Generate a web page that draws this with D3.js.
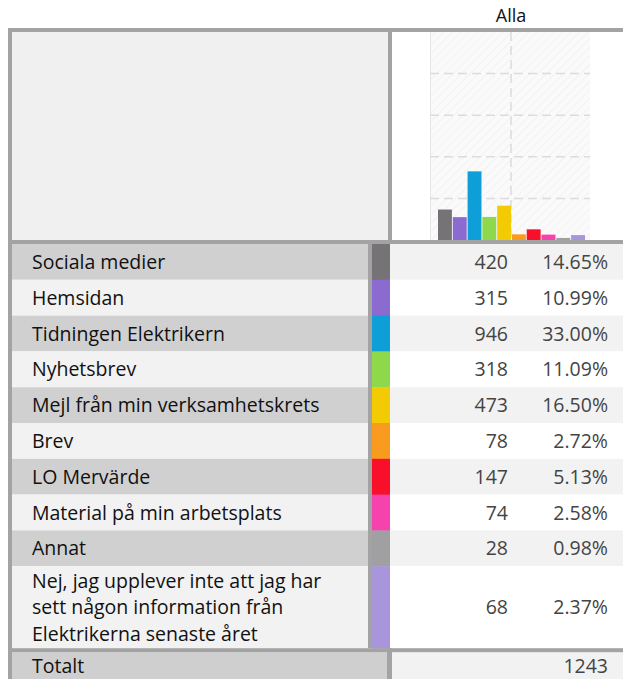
<!DOCTYPE html>
<html>
<head>
<meta charset="utf-8">
<script src="https://cdn.jsdelivr.net/npm/d3@7"></script>
<style>
  html, body { margin: 0; padding: 0; background: #ffffff; }
  svg { display: block; font-family: "Open Sans", "Noto Sans", sans-serif; }
</style>
</head>
<body>
<div id="chart"></div>
<script>
// ---- data ----
const headerLabel = "Alla";
const categories = [
  "Sociala medier",
  "Hemsidan",
  "Tidningen Elektrikern",
  "Nyhetsbrev",
  "Mejl från min verksamhetskrets",
  "Brev",
  "LO Mervärde",
  "Material på min arbetsplats",
  "Annat",
  "Nej, jag upplever inte att jag har sett någon information från Elektrikerna senaste året"
];
const labelLines = [
  ["Sociala medier"],
  ["Hemsidan"],
  ["Tidningen Elektrikern"],
  ["Nyhetsbrev"],
  ["Mejl från min verksamhetskrets"],
  ["Brev"],
  ["LO Mervärde"],
  ["Material på min arbetsplats"],
  ["Annat"],
  ["Nej, jag upplever inte att jag har", "sett någon information från", "Elektrikerna senaste året"]
];
const counts = [420, 315, 946, 318, 473, 78, 147, 74, 28, 68];
const percents = [14.65, 10.99, 33.00, 11.09, 16.50, 2.72, 5.13, 2.58, 0.98, 2.37];
const colors = ["#767376", "#8B6BCF", "#0F9FD8", "#8DD94B", "#F2CB05", "#F99B1E", "#F8102A", "#F542AD", "#A09FA1", "#A995DB"];
const totalLabel = "Totalt";
const totalValue = 1243;
const yTicks = [0, 20, 40, 60, 80, 100];

// ---- layout ----
const W = 623, H = 679;
const borderC = "#a3a3a3";
const svg = d3.select("#chart").append("svg").attr("width", W).attr("height", H);

const tableLeft = 8, tableTop = 28, headerBottom = 240, divX = 388;
const labelRight = 368, swatchL = 372, swatchR = 390;
const rowTop0 = 244, rowH = 35.8, lastRowH = 82;
const rowTops = [];
let yy = rowTop0;
categories.forEach((c, i) => { rowTops.push(yy); yy += (i === categories.length - 1 ? lastRowH : rowH); });
const rowHeights = categories.map((c, i) => i === categories.length - 1 ? lastRowH : rowH);
const tableBottom = yy; // 648
const totalTop = tableBottom + 4;

// header title
svg.append("text").attr("x", 511).attr("y", 22).attr("text-anchor", "middle")
  .attr("font-size", 18).attr("fill", "#111").text(headerLabel);

// header left cell
svg.append("rect").attr("x", 12).attr("y", 32).attr("width", divX - 12).attr("height", headerBottom - 32).attr("fill", "#f0f0f0");

// chart area
const plotL = 430, plotR = 590, plotT = 32, plotB = 240;
const defs = svg.append("defs");
const pat = defs.append("pattern").attr("id", "hatch").attr("patternUnits", "userSpaceOnUse")
  .attr("width", 6).attr("height", 6).attr("patternTransform", "rotate(45)");
pat.append("rect").attr("width", 6).attr("height", 6).attr("fill", "#fafafa");
pat.append("line").attr("x1", 0).attr("y1", 0).attr("x2", 0).attr("y2", 6).attr("stroke", "#ededed").attr("stroke-width", 1.2);

svg.append("rect").attr("x", plotL).attr("y", plotT).attr("width", plotR - plotL).attr("height", plotB - plotT).attr("fill", "url(#hatch)");
svg.append("line").attr("x1", plotL + 0.5).attr("x2", plotL + 0.5).attr("y1", plotT).attr("y2", plotB).attr("stroke", "#e6e6e6");

const y = d3.scaleLinear().domain([0, 100]).range([plotB, plotT]);
const x = d3.scaleBand().domain(categories).range([438, 585]).paddingInner(0.06);

svg.append("g").selectAll("line").data(yTicks.filter(t => t > 0 && t < 100)).join("line")
  .attr("x1", plotL).attr("x2", plotR).attr("y1", d => y(d)).attr("y2", d => y(d))
  .attr("stroke", "#dcdcdc").attr("stroke-width", 1.5).attr("stroke-dasharray", "9,5");
svg.append("line").attr("x1", 511).attr("x2", 511).attr("y1", plotT).attr("y2", plotB)
  .attr("stroke", "#dcdcdc").attr("stroke-width", 1.5).attr("stroke-dasharray", "9,5");

svg.append("g").selectAll("rect").data(categories).join("rect")
  .attr("x", d => x(d)).attr("width", x.bandwidth())
  .attr("y", (d, i) => y(percents[i])).attr("height", (d, i) => y(0) - y(percents[i]))
  .attr("fill", (d, i) => colors[i]);

// rows
const rows = svg.append("g").selectAll("g").data(categories).join("g");
rows.append("rect").attr("x", 12).attr("y", (d, i) => rowTops[i]).attr("width", labelRight - 12)
  .attr("height", (d, i) => rowHeights[i]).attr("fill", (d, i) => i % 2 === 0 ? "#d0d0d0" : "#f2f2f2");
rows.append("rect").attr("x", swatchR).attr("y", (d, i) => rowTops[i]).attr("width", W - swatchR)
  .attr("height", (d, i) => rowHeights[i]).attr("fill", (d, i) => i % 2 === 0 ? "#f2f2f2" : "#ffffff");
// divider between label and swatch
svg.append("rect").attr("x", labelRight).attr("y", rowTop0).attr("width", swatchL - labelRight).attr("height", tableBottom - rowTop0).attr("fill", borderC);
rows.append("rect").attr("x", swatchL).attr("y", (d, i) => rowTops[i]).attr("width", swatchR - swatchL)
  .attr("height", (d, i) => rowHeights[i] + 0.5).attr("fill", (d, i) => colors[i]);

const fs = 19.5;
rows.each(function(d, i) {
  const g = d3.select(this);
  const lines = labelLines[i];
  const n = lines.length;
  const lh = 26.6;
  const mid = rowTops[i] + rowHeights[i] / 2;
  const base0 = mid + 7 - (n - 1) * lh / 2;
  lines.forEach((ln, k) => {
    g.append("text").attr("x", 32).attr("y", base0 + k * lh).attr("font-size", fs).attr("fill", "#111").text(ln);
  });
  g.append("text").attr("x", 508).attr("y", mid + 7).attr("text-anchor", "end").attr("font-size", fs).attr("fill", "#444").text(counts[i]);
  g.append("text").attr("x", 608).attr("y", mid + 7).attr("text-anchor", "end").attr("font-size", fs).attr("fill", "#444").text(percents[i].toFixed(2) + "%");
});

// total row
svg.append("rect").attr("x", 12).attr("y", totalTop).attr("width", 387 - 12).attr("height", H - totalTop).attr("fill", "#cfcfcf");
svg.append("rect").attr("x", 392).attr("y", totalTop).attr("width", W - 392).attr("height", H - totalTop).attr("fill", "#f2f2f2");
svg.append("rect").attr("x", 387).attr("y", tableBottom).attr("width", 5).attr("height", H - tableBottom).attr("fill", borderC);
svg.append("text").attr("x", 32).attr("y", 673).attr("font-size", fs).attr("fill", "#111").text(totalLabel);
svg.append("text").attr("x", 608).attr("y", 673).attr("text-anchor", "end").attr("font-size", fs).attr("fill", "#444").text(totalValue);

// borders
svg.append("rect").attr("x", tableLeft).attr("y", tableTop).attr("width", W - tableLeft).attr("height", 4).attr("fill", borderC);
svg.append("rect").attr("x", tableLeft).attr("y", tableTop).attr("width", 4).attr("height", H - tableTop).attr("fill", borderC);
svg.append("rect").attr("x", divX).attr("y", tableTop).attr("width", 4).attr("height", headerBottom + 4 - tableTop).attr("fill", borderC);
svg.append("rect").attr("x", tableLeft).attr("y", headerBottom).attr("width", W - tableLeft).attr("height", 4).attr("fill", borderC);
svg.append("rect").attr("x", tableLeft).attr("y", tableBottom).attr("width", W - tableLeft).attr("height", 4).attr("fill", borderC);
</script>
</body>
</html>
